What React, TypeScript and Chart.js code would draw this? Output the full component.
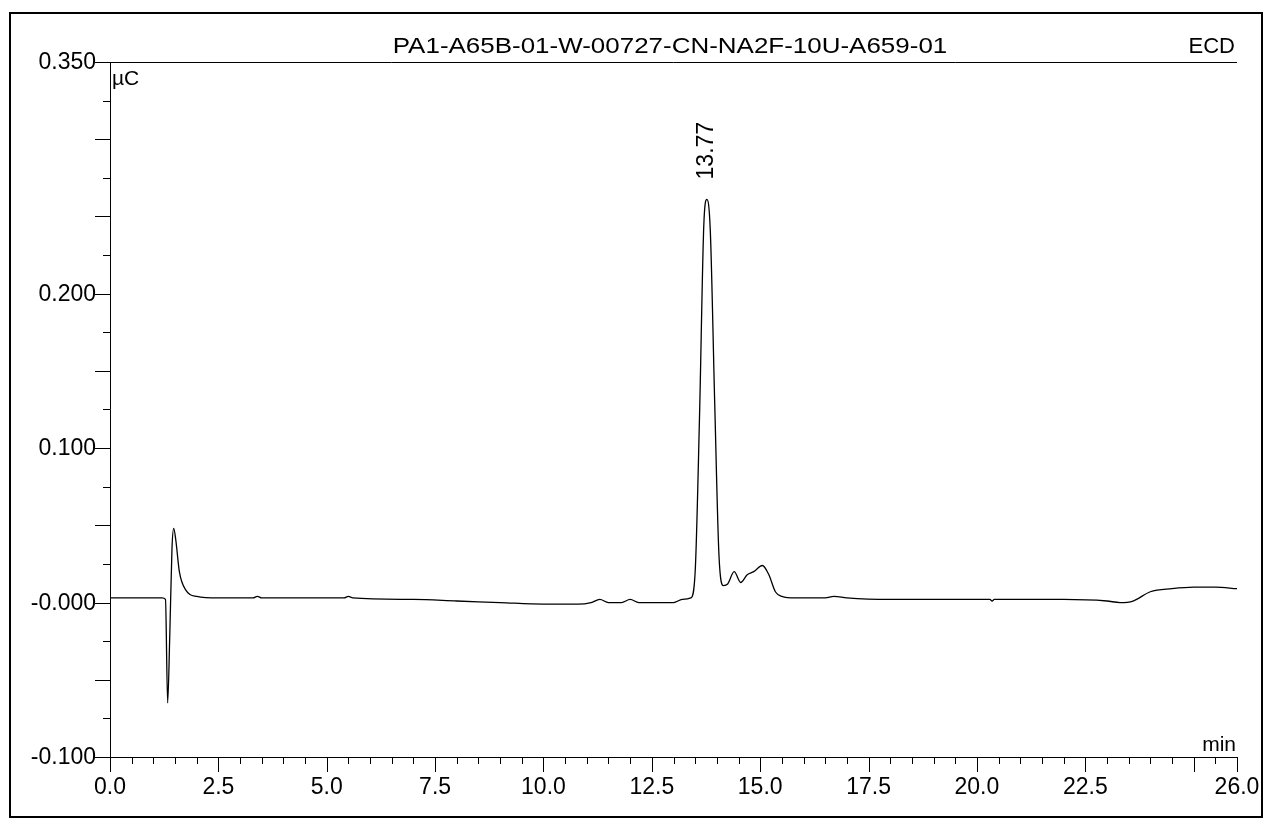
import { useEffect, useRef } from "react"
import Chart from "chart.js/auto"

const title = "PA1-A65B-01-W-00727-CN-NA2F-10U-A659-01"
const detector = "ECD"
const peakLabels = [{ t: 13.77, v: 0.261, text: "13.77" }]

const times = [
  0, 1.2, 1.28, 1.33, 1.38, 1.43, 1.47, 1.52, 1.6, 1.75, 2.0, 2.5, 3.3, 3.4, 3.5, 5.4, 5.5, 5.6, 7, 8, 9, 10,
  10.8, 11.1, 11.3, 11.5, 11.8, 12.0, 12.2, 12.5, 13.0, 13.2, 13.4, 13.5, 13.6, 13.7, 13.77, 13.85, 13.95,
  14.05, 14.15, 14.25, 14.4, 14.55, 14.7, 14.85, 15.05, 15.2, 15.35, 15.5, 15.8, 16.5, 16.7, 17, 18, 19, 20,
  20.3, 20.35, 20.4, 21, 22, 23, 23.3, 23.6, 24, 24.5, 25, 25.5, 26,
]
const signal = [
  0.003, 0.003, 0.002, -0.065, -0.02, 0.035, 0.048, 0.04, 0.02, 0.008, 0.004, 0.003, 0.003, 0.004, 0.003,
  0.003, 0.004, 0.003, 0.002, 0.001, 0, -0.001, -0.001, 0, 0.002, 0, 0, 0.002, 0, 0, 0, 0.002, 0.003, 0.02,
  0.12, 0.245, 0.261, 0.24, 0.13, 0.03, 0.011, 0.012, 0.02, 0.013, 0.018, 0.02, 0.024, 0.018, 0.007, 0.004,
  0.003, 0.003, 0.004, 0.003, 0.002, 0.002, 0.002, 0.002, 0.001, 0.002, 0.002, 0.002, 0.001, 0, 0.001, 0.007,
  0.009, 0.01, 0.01, 0.009,
]
const yLabels = [0.35, 0.2, 0.1, 0, -0.1]
const xLabels = [0, 2.5, 5, 7.5, 10, 12.5, 15, 17.5, 20, 22.5, 26]

const FONT = '"Liberation Sans", Arial, sans-serif'

const axesPlugin = {
  id: "axesPlugin",
  afterDraw(chart: any) {
    const { ctx, chartArea: a } = chart
    const xs = chart.scales.x
    const ys = chart.scales.y
    ctx.save()
    ctx.strokeStyle = "#000"
    ctx.fillStyle = "#000"
    // outer frame
    ctx.lineWidth = 2
    ctx.strokeRect(10, 13, chart.width - 12, chart.height - 15)
    ctx.lineWidth = 1
    ctx.beginPath()
    ctx.moveTo(a.left + 0.5, a.top)
    ctx.lineTo(a.left + 0.5, a.bottom + 0.5)
    ctx.lineTo(a.right, a.bottom + 0.5)
    ctx.moveTo(a.left, a.top + 0.5)
    ctx.lineTo(a.right, a.top + 0.5)
    // y ticks
    for (let i = 0; i <= 18; i++) {
      const v = -0.1 + i * 0.025
      const py = Math.round(ys.getPixelForValue(v)) + 0.5
      const major = i % 2 === 0
      ctx.moveTo(a.left - (major ? 15 : 7), py)
      ctx.lineTo(a.left, py)
    }
    // x ticks
    for (let i = 0; i <= 52; i++) {
      const v = i * 0.5
      const px = Math.round(xs.getPixelForValue(v)) + 0.5
      const major = i % 5 === 0 || i === 52
      ctx.moveTo(px, a.bottom)
      ctx.lineTo(px, a.bottom + (major ? 15 : 7))
    }
    ctx.stroke()
    ctx.font = `23px ${FONT}`
    ctx.textAlign = "right"
    ctx.textBaseline = "alphabetic"
    yLabels.forEach((v) => {
      const s = v === 0 ? "-0.000" : v.toFixed(3)
      ctx.fillText(s, a.left - 14, ys.getPixelForValue(v) + 7)
    })
    ctx.textAlign = "center"
    ctx.textBaseline = "top"
    xLabels.forEach((v) => ctx.fillText(v.toFixed(1), xs.getPixelForValue(v), a.bottom + 19))
    ctx.font = `21px ${FONT}`
    ctx.textAlign = "left"
    ctx.fillText("µC", a.left + 2, a.top + 7)
    ctx.textAlign = "right"
    ctx.textBaseline = "bottom"
    ctx.fillText("min", a.right - 1, a.bottom - 1)
    ctx.font = `22px ${FONT}`
    ctx.textBaseline = "middle"
    ctx.fillText(detector, a.right - 2, 47)
    ctx.textAlign = "center"
    ctx.save()
    ctx.translate(670, 47)
    ctx.scale(1.18, 1)
    ctx.fillText(title, 0, 0)
    ctx.restore()
    ctx.font = `23px ${FONT}`
    peakLabels.forEach((p) => {
      ctx.save()
      ctx.translate(xs.getPixelForValue(p.t), ys.getPixelForValue(p.v) - 20)
      ctx.rotate(-Math.PI / 2)
      ctx.textAlign = "left"
      ctx.textBaseline = "middle"
      ctx.fillText(p.text, 0, 0)
      ctx.restore()
    })
    ctx.restore()
  },
}

export default function App() {
  const ref = useRef<HTMLCanvasElement>(null)

  useEffect(() => {
    if (!ref.current) return
    const chart = new Chart(ref.current, {
      type: "line",
      data: {
        datasets: [
          {
            data: times.map((t, i) => ({ x: t, y: signal[i] })),
            borderColor: "#000",
            borderWidth: 1.3,
            pointRadius: 0,
            cubicInterpolationMode: "monotone",
          },
        ],
      },
      options: {
        animation: false,
        responsive: true,
        maintainAspectRatio: false,
        layout: { padding: { left: 110, right: 27, top: 62, bottom: 62 } },
        plugins: { legend: { display: false }, tooltip: { enabled: false } },
        scales: {
          x: { type: "linear", min: 0, max: 26, display: false },
          y: { type: "linear", min: -0.1, max: 0.35, display: false },
        },
      },
      plugins: [axesPlugin],
    })
    return () => chart.destroy()
  }, [])

  return (
    <div style={{ position: "fixed", left: 0, top: 0, width: 1264, height: 819, background: "#fff" }}>
      <canvas ref={ref} />
    </div>
  )
}
